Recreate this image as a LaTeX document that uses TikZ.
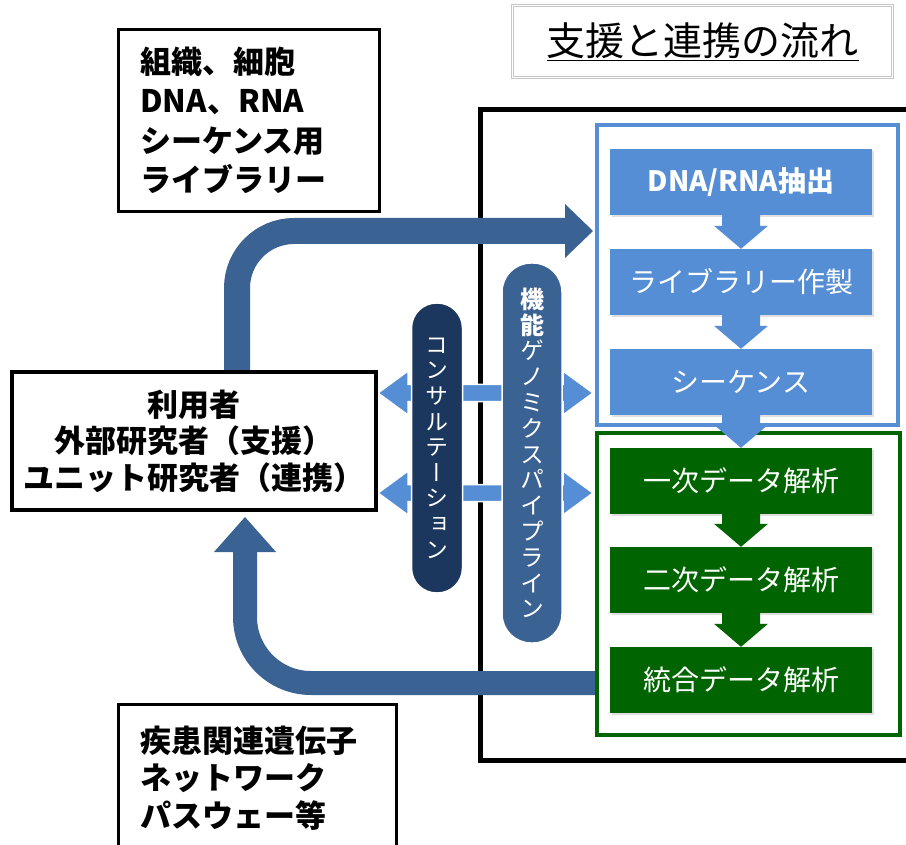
\documentclass[tikz,border=0pt]{standalone}
\usepackage{fontspec}
\setmainfont{Noto Sans CJK JP}
\newfontfamily\jpv{Noto Sans CJK JP}[RawFeature=+vert]
\usetikzlibrary{calc,shadows}
\definecolor{lblue}{HTML}{558ED5}
\definecolor{mblue}{HTML}{3A6293}
\definecolor{navy}{HTML}{1B375E}
\definecolor{dgreen}{HTML}{006400}
\newcommand\stepArrow[3]{\fill[#1] ($(#2.south)+(-19,0)$) -- ($(#3.north)+(-19,-23)$) -- ($(#3.north)+(-27,-23)$) -- (#3.north) -- ($(#3.north)+(27,-23)$) -- ($(#3.north)+(19,-23)$) -- ($(#2.south)+(19,0)$) -- cycle;}
\newcommand\dblArrow[2]{\filldraw[fill=lblue, draw=white, line width=1.5] (#1) -- ++(30,-22) -- ++(0,13.5) -- ($(#2)+(-30,-8.5)$) -- ++(0,-13.5) -- (#2) -- ++(-30,22) -- ++(0,-13.5) -- ($(#1)+(30,8.5)$) -- ++(0,13.5) -- cycle;}
\begin{document}
\begin{tikzpicture}[x=1pt,y=-1pt,
  stepbox/.style={minimum width=262, minimum height=66, inner sep=0, text=white,
    font=\fontsize{28}{32}\selectfont, drop shadow={opacity=0.25, shadow xshift=2pt, shadow yshift=-2pt}},
  bluestep/.style={stepbox, fill=lblue},
  greenstep/.style={stepbox, fill=dgreen},
  pill/.style={draw=white, line width=1.5, inner sep=0, text=white, align=center},
  leftbox/.style={draw, line width=2.8, anchor=north west, align=left, inner xsep=22, inner ysep=0},
  bigarrow/.style={draw=mblue, line width=26}
]
\useasboundingbox (0,0) rectangle (906,845);
\fill[white] (0,0) rectangle (906,845);

% outer black frame
\draw[line width=5] (916,110) -- (480,110) -- (480,760) -- (916,760);

% big curved arrows
\coordinate (ta) at (237,372);
\coordinate (tt) at (593,231);
\draw[bigarrow, rounded corners=57] (ta) |- ($(tt)+(-27,0)$);
\fill[mblue] ($(tt)+(-28,-27)$) -- (tt) -- ($(tt)+(-28,27)$) -- cycle;

\coordinate (ba) at (597,683);
\coordinate (bt) at (245,517);
\draw[bigarrow, line width=24, rounded corners=66] (ba) -| ($(bt)+(0,34)$);
\fill[mblue] ($(bt)+(-31,35)$) -- (bt) -- ($(bt)+(31,35)$) -- cycle;

% frames
\node[draw=lblue, line width=4, minimum width=301, minimum height=300, inner sep=0] (bframe) at (747.5,275) {};
\node[draw=dgreen, line width=4, minimum width=303, minimum height=302, inner sep=0] (gframe) at (748.5,584) {};

% steps
\node[bluestep, font=\fontsize{28}{32}\selectfont\bfseries] (s1) at (741,182) {DNA/RNA抽出};
\node[bluestep] (s2) at (741,282) {ライブラリー作製};
\node[bluestep] (s3) at (741,382) {シーケンス};
\node[greenstep] (s4) at (741,481) {一次データ解析};
\node[greenstep] (s5) at (741,580) {二次データ解析};
\node[greenstep] (s6) at (741,680) {統合データ解析};
\stepArrow{lblue}{s1}{s2}
\stepArrow{lblue}{s2}{s3}
\stepArrow{lblue}{s3}{s4}
\stepArrow{dgreen}{s4}{s5}
\stepArrow{dgreen}{s5}{s6}

% double arrows
\coordinate (dl1) at (378,393);
\coordinate (dr1) at (593,393);
\coordinate (dl2) at (378,493);
\coordinate (dr2) at (593,493);
\dblArrow{dl1}{dr1}
\dblArrow{dl2}{dr2}

% pills
\node[pill, fill=navy, minimum width=51, minimum height=290, rounded corners=25,
  font=\jpv\fontsize{23}{25.6}\selectfont] (consult) at (437,448)
  {コ\\ン\\サ\\ル\\テ\\ー\\シ\\ョ\\ン};
\node[pill, fill=mblue, minimum width=60, minimum height=380, rounded corners=29,
  font=\jpv\fontsize{24}{25.8}\selectfont] (pipe) at (532,453)
  {\bfseries 機\\\bfseries 能\\ゲ\\ノ\\ミ\\ク\\ス\\パ\\イ\\プ\\ラ\\イ\\ン};

% left boxes
\node[leftbox, minimum height=182, text width=217, font=\fontsize{31}{39.5}\selectfont\bfseries] (samples) at (117,28)
  {組織、細胞\\DNA、RNA\\シーケンス用\\ライブラリー};
\node[draw, line width=4.5, minimum width=364, minimum height=138, align=center, inner sep=0,
  font=\fontsize{31}{36.5}\selectfont\bfseries] (user) at (194,441)
  {利用者\\外部研究者（支援）\\ユニット研究者（連携）};
\node[leftbox, minimum height=147, text width=234, font=\fontsize{31}{37.5}\selectfont\bfseries] (results) at (117,703)
  {疾患関連遺伝子\\ネットワーク\\パスウェー等};

% title
\node[draw=gray!45, double=white, double distance=1.5pt, line width=0.8, minimum width=380, minimum height=72,
  font=\fontsize{39}{42}\selectfont] (title) at (702.5,41.5) {\underline{支援と連携の流れ}};
\end{tikzpicture}
\end{document}
